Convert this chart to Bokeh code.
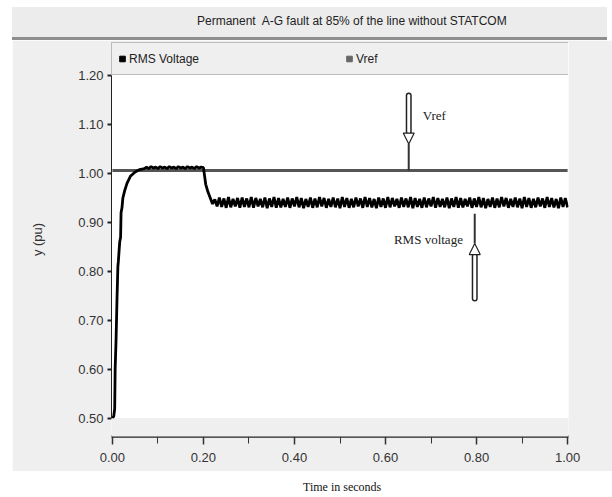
import numpy as np
from bokeh.plotting import figure
from bokeh.models import (Range1d, Legend, LegendItem, Div, BoxAnnotation, Arrow,
                          NormalHead, Label, FixedTicker, NumeralTickFormatter)
from bokeh.layouts import column, row
from bokeh.embed import file_html
from bokeh.resources import INLINE

# ---------------- data ----------------
title_text = "Permanent&nbsp; A-G fault at 85% of the line without STATCOM"
x_label = "Time in seconds"
y_label = "y (pu)"
series_names = ["RMS Voltage", "Vref"]

x_ticks = [0.0, 0.2, 0.4, 0.6, 0.8, 1.0]
x_minor = [0.1, 0.3, 0.5, 0.7, 0.9]
y_ticks = [0.5, 0.6, 0.7, 0.8, 0.9, 1.0, 1.1, 1.2]

# start-up of the RMS voltage (t, pu)
t_start = [0.000, 0.003, 0.005, 0.006, 0.008, 0.010, 0.012, 0.013, 0.016, 0.018,
           0.019, 0.021, 0.023, 0.027, 0.032, 0.040, 0.050, 0.060, 0.070]
v_start = [0.500, 0.505, 0.520, 0.600, 0.660, 0.740, 0.810, 0.820, 0.860, 0.870,
           0.920, 0.930, 0.950, 0.965, 0.980, 0.995, 1.003, 1.008, 1.010]

# sampled every 5 ms from 0.075 s to 1.000 s
t_grid = np.round(np.arange(0.075, 1.0001, 0.005), 3)
v_grid = [
    # pre-fault plateau 0.075..0.195
    1.013, 1.010, 1.014, 1.011, 1.013, 1.010, 1.014, 1.011, 1.013, 1.010,
    1.014, 1.011, 1.013, 1.010, 1.014, 1.011, 1.013, 1.010, 1.014, 1.011,
    1.013, 1.010, 1.014, 1.011, 1.013,
    # fault at 0.2 s
    1.012, 0.978, 0.962, 0.950, 0.938, 0.947, 0.933,
    # ripple 0.235..1.000
    0.951, 0.932, 0.949, 0.930, 0.952, 0.931, 0.948, 0.933, 0.950, 0.930, 0.951, 0.932, 0.949, 0.931,
    0.952, 0.930, 0.950, 0.933, 0.948, 0.931, 0.951, 0.929, 0.949, 0.932, 0.952, 0.930, 0.950, 0.931,
    0.948, 0.932, 0.951, 0.930, 0.949, 0.933, 0.952, 0.931, 0.950, 0.929, 0.948, 0.932, 0.951, 0.930,
    0.949, 0.931, 0.952, 0.933, 0.950, 0.930, 0.948, 0.932, 0.951, 0.931, 0.949, 0.929, 0.952, 0.932,
    0.950, 0.930, 0.948, 0.931, 0.951, 0.933, 0.949, 0.930, 0.952, 0.932, 0.950, 0.931, 0.948, 0.929,
    0.951, 0.932, 0.949, 0.930, 0.952, 0.931, 0.950, 0.933, 0.948, 0.930, 0.951, 0.932, 0.949, 0.931,
    0.952, 0.929, 0.950, 0.932, 0.948, 0.930, 0.951, 0.931, 0.949, 0.933, 0.952, 0.930, 0.950, 0.932,
    0.948, 0.931, 0.951, 0.929, 0.949, 0.932, 0.952, 0.930, 0.950, 0.931, 0.948, 0.933, 0.951, 0.930,
    0.949, 0.932, 0.952, 0.931, 0.950, 0.929, 0.948, 0.932, 0.951, 0.930, 0.949, 0.931, 0.952, 0.933,
    0.950, 0.930, 0.948, 0.932, 0.951, 0.931, 0.949, 0.929, 0.952, 0.932, 0.950, 0.930, 0.948, 0.931,
    0.951, 0.933, 0.949, 0.930, 0.952, 0.932, 0.950, 0.931, 0.948, 0.929, 0.951, 0.932, 0.950, 0.931,
]
t_rms = list(t_start) + list(t_grid)
v_rms = list(v_start) + list(v_grid)

t_vref = [0.0, 1.0]
v_vref = [1.006, 1.006]

# annotation arrows: x, tail, neck, head tip, line tip
vref_arrow = (0.651, 1.159, 1.085, 1.060, 1.006)
rms_arrow = (0.796, 0.745, 0.832, 0.857, 0.918)
vref_note = (0.682, 1.118)
rms_note = (0.770, 0.865)

# ---------------- styling ----------------
GREY = "#efefef"
SANS = "Liberation Sans"
SERIF = "Liberation Serif"

title_div = Div(
    text=('<div style="width:612px;height:40px;background:white;padding:7px 5px 0 12px;'
          'box-sizing:border-box;">'
          '<div style="width:595px;height:33px;background:#ececec;'
          'border-bottom:3px solid #8e8e8e;box-sizing:border-box;'
          f"font-family:'{SANS}';font-size:12px;color:#222;line-height:29px;"
          'padding-left:185px;white-space:nowrap;">' + title_text + '</div></div>'),
    width=612, height=40, margin=0)

spacer = Div(text="", width=12, height=431, margin=0)

p = figure(width=600, height=431,
           x_range=Range1d(-0.002, 1.002), y_range=Range1d(0.4633, 1.2673),
           output_backend="svg", toolbar_location=None,
           min_border_left=99, min_border_right=44,
           min_border_top=2, min_border_bottom=35,
           background_fill_color="white", border_fill_color=GREY,
           outline_line_color=None, margin=0)
p.grid.visible = False

# grey band below the plotting area (between data area and time axis)
p.add_layout(BoxAnnotation(top=0.5, fill_color=GREY, fill_alpha=1.0,
                           line_color="#e2e2e2", line_width=1))

# lines
p.line(t_vref, v_vref, line_color="#555555", line_width=3)
p.line(t_rms, v_rms, line_color="black", line_width=2.8)

# legend proxies (NaN points: nothing drawn in the plot, only the legend swatch)
r1 = p.scatter([np.nan], [np.nan], marker="square", size=7, color="black")
r2 = p.scatter([np.nan], [np.nan], marker="square", size=7, color="#666666")
legend = Legend(items=[LegendItem(label=series_names[0], renderers=[r1]),
                       LegendItem(label=series_names[1], renderers=[r2])],
                orientation="horizontal", location="top_left",
                margin=0, padding=3, spacing=4,
                glyph_width=14, glyph_height=25,
                label_width=209, label_standoff=0,
                border_line_color="#8a8a8a", border_line_width=1,
                background_fill_color=GREY, background_fill_alpha=1.0,
                label_text_font=SANS, label_text_font_size="12px",
                label_text_color="#222222")
p.add_layout(legend)

# axes
xa = p.xaxis[0]
xa.ticker = FixedTicker(ticks=x_ticks, minor_ticks=x_minor)
xa.formatter = NumeralTickFormatter(format="0.00")
xa.axis_line_color = "#555555"
xa.axis_line_width = 3
xa.major_tick_in = 0
xa.major_tick_out = 8
xa.minor_tick_in = 0
xa.minor_tick_out = 7
xa.major_tick_line_color = "#333333"
xa.minor_tick_line_color = "#333333"
xa.major_tick_line_width = 1.5
xa.major_label_standoff = 8
xa.major_label_text_font = SANS
xa.major_label_text_font_size = "13px"
xa.major_label_text_color = "#333333"

ya = p.yaxis[0]
ya.ticker = FixedTicker(ticks=y_ticks)
ya.formatter = NumeralTickFormatter(format="0.00")
ya.bounds = (0.5, 1.2)
ya.minor_tick_line_color = None
ya.axis_line_color = "#222222"
ya.major_tick_in = 0
ya.major_tick_out = 4
ya.major_tick_line_width = 2
ya.major_tick_line_color = "#222222"
ya.major_label_standoff = 4
ya.major_label_text_font = SANS
ya.major_label_text_font_size = "13px"
ya.major_label_text_color = "#333333"
ya.axis_label = y_label
ya.axis_label_text_font = SANS
ya.axis_label_text_font_size = "13px"
ya.axis_label_text_font_style = "normal"
ya.axis_label_text_color = "#333333"
ya.axis_label_standoff = 30


def hollow_arrow(spec):
    x, tail, neck, head, tip = spec
    p.add_layout(Arrow(end=None, x_start=x, y_start=tail, x_end=x, y_end=neck,
                       line_color="#222222", line_width=6, line_cap="round"))
    p.add_layout(Arrow(end=None, x_start=x, y_start=tail, x_end=x, y_end=neck,
                       line_color="white", line_width=3, line_cap="round"))
    p.add_layout(Arrow(end=NormalHead(size=11, fill_color="white", line_color="#222222",
                                      line_width=1.2),
                       x_start=x, y_start=neck, x_end=x, y_end=head, line_alpha=0))
    p.add_layout(Arrow(end=None, x_start=x, y_start=head, x_end=x, y_end=tip,
                       line_color="#333333", line_width=2))


hollow_arrow(vref_arrow)
hollow_arrow(rms_arrow)

p.add_layout(Label(x=vref_note[0], y=vref_note[1], text="Vref", text_font=SERIF,
                   text_font_size="13px", text_baseline="middle", text_color="#222222"))
p.add_layout(Label(x=rms_note[0], y=rms_note[1], text="RMS voltage", text_font=SERIF,
                   text_font_size="13px", text_baseline="middle", text_align="right",
                   text_color="#222222"))

xlabel_div = Div(
    text=('<div style="width:612px;height:26px;background:white;box-sizing:border-box;'
          f"font-family:'{SERIF}';font-size:12px;color:#111;line-height:16px;"
          'padding-top:8px;padding-left:303px;white-space:nowrap;">' + x_label + '</div>'),
    width=612, height=26, margin=0)

root = column(title_div, row(spacer, p, spacing=0, margin=0), xlabel_div,
              spacing=0, margin=0)

open("out.html", "w").write(file_html(root, INLINE))
